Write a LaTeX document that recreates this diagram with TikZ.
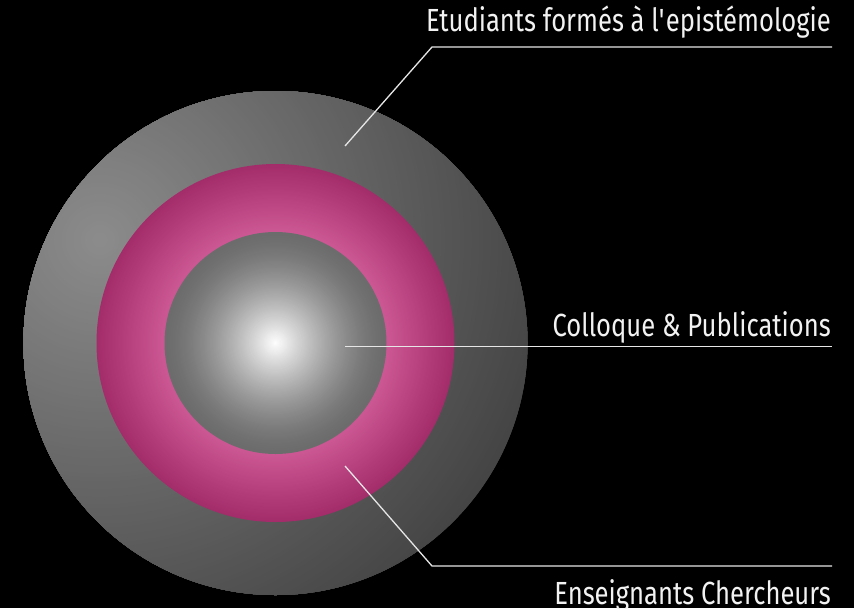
\documentclass[tikz,border=0pt]{standalone}
\usepackage{fontspec}
\setmainfont{Fira Sans}[FakeStretch=0.80]
\definecolor{outlight}{HTML}{8C8C8C}
\definecolor{outdark}{HTML}{444444}
\definecolor{pinkbright}{HTML}{CC5894}
\definecolor{pinkdark}{HTML}{A32C6A}
\definecolor{sphedge}{HTML}{6C6C6C}
\definecolor{linecol}{HTML}{E6E6E6}
\definecolor{textcol}{HTML}{F2F2F2}
\begin{document}
\begin{tikzpicture}[x=1pt,y=-1pt,
  leader/.style={draw=linecol, line width=1.3pt},
  lbl/.style={text=textcol, font=\fontsize{32}{32}\selectfont, anchor=base east, inner sep=0pt},
  ring/.style={circle, inner sep=0pt, minimum size=#1}]
\fill[black] (0,0) rectangle (854,608);
\useasboundingbox (0,0) rectangle (854,608);
\coordinate (C) at (275.5,343);
\coordinate (L) at (100,240);
% outer gray disc
\begin{scope}
\clip (C) circle[radius=252pt];
\foreach \i in {0,...,120}{
  \pgfmathsetmacro\r{460*(1-\i/120)}
  \pgfmathsetmacro\p{100*\i/120}
  \fill[outlight!\p!outdark] (L) circle[radius=\r pt];
}
\end{scope}
% pink ring
\foreach \i in {0,...,60}{
  \pgfmathsetmacro\r{179-68*\i/60}
  \pgfmathsetmacro\p{100*\i/60}
  \fill[pinkbright!\p!pinkdark] (C) circle[radius=\r pt];
}
% inner sphere
\foreach \i in {0,...,100}{
  \pgfmathsetmacro\r{111*(1-\i/100)}
  \pgfmathsetmacro\p{100*(\i/100)^1.5}
  \fill[white!\p!sphedge] (C) circle[radius=\r pt];
}
\node[ring=504pt] (outer) at (C) {};
\node[ring=358pt] (middle) at (C) {};
\node[ring=222pt] (inner) at (C) {};
% labels
\node[lbl] (t1) at (831,31.5) {Etudiants formés à l\textquotesingle epistémologie};
\node[lbl] (t2) at (831,336) {Colloque \& Publications};
\node[lbl] (t3) at (831,604) {Enseignants Chercheurs};
% leader lines
\coordinate (a1) at (345,146);
\coordinate (k1) at (432,47);
\coordinate (e1) at (832,47);
\coordinate (a2) at (345,346.7);
\coordinate (e2) at (832,346.7);
\coordinate (a3) at (345,466);
\coordinate (k3) at (432,566);
\coordinate (e3) at (832,566);
\draw[leader] (a1) -- (k1) -- (e1);
\draw[leader] (a2) -- (e2);
\draw[leader] (a3) -- (k3) -- (e3);
\end{tikzpicture}
\end{document}
